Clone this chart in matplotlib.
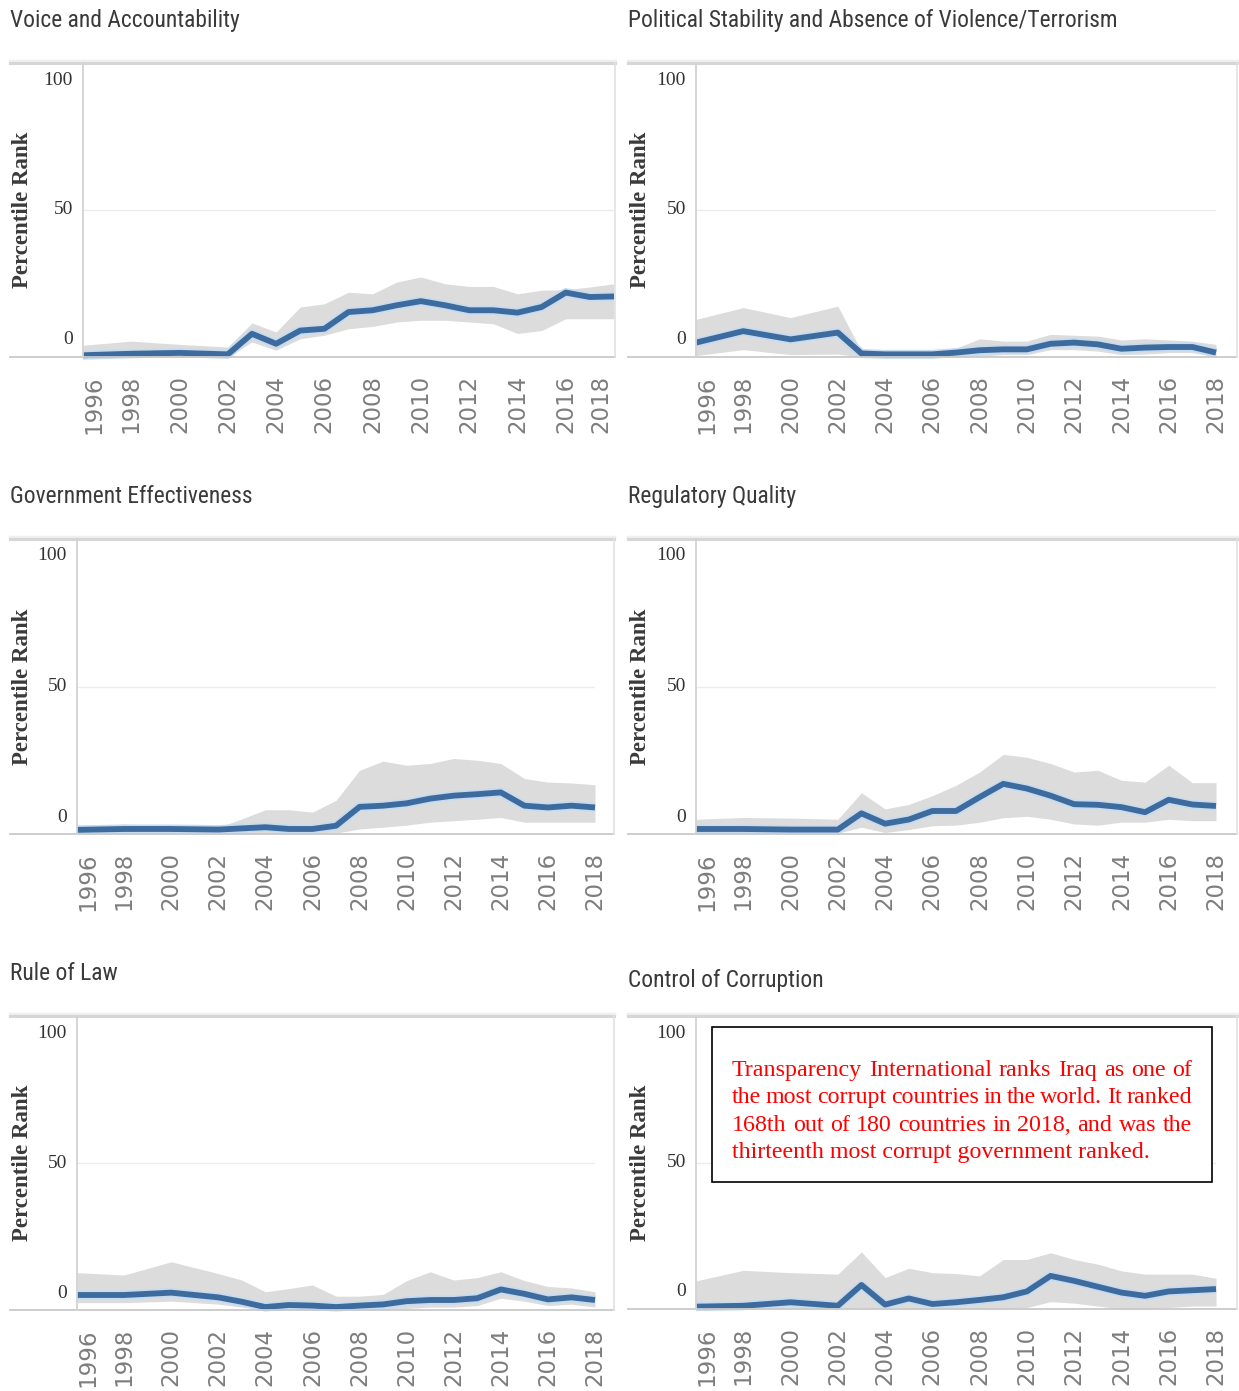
import matplotlib
matplotlib.use("Agg")
import matplotlib.pyplot as plt
import matplotlib.transforms as mtransforms
from matplotlib.lines import Line2D
from matplotlib.patches import Rectangle
from matplotlib import font_manager

W, H = 1239, 1391

# WGI percentile rank for Iraq (estimate, upper and lower bound of the 90% interval)
years = [1996, 1998, 2000, 2002, 2003, 2004, 2005, 2006, 2007, 2008,
         2009, 2010, 2011, 2012, 2013, 2014, 2015, 2016, 2017, 2018]
tick_years = [1996, 1998, 2000, 2002, 2004, 2006, 2008, 2010, 2012, 2014, 2016, 2018]

va_rank = [0.6, 1.1, 1.4, 0.9, 7.9, 4.5, 9.0, 9.6, 15.3, 15.9,
           17.6, 19.0, 17.6, 15.9, 15.9, 15.1, 17.0, 21.9, 20.4, 20.6]
va_upper = [4.0, 5.4, 4.3, 3.4, 11.6, 8.5, 17.0, 18.1, 22.0, 21.5,
            25.5, 27.2, 24.9, 24.0, 24.0, 21.5, 22.7, 22.9, 23.8, 24.9]
va_lower = [0.0, 0.0, 0.0, 0.0, 5.1, 2.3, 6.2, 7.4, 9.6, 10.4,
            11.9, 12.5, 12.5, 11.9, 11.3, 8.0, 9.0, 13.0, 13.0, 13.0]

ps_rank = [4.9, 8.8, 6.0, 8.3, 1.2, 0.9, 0.9, 0.9, 1.5, 2.3,
           2.6, 2.6, 4.5, 4.9, 4.3, 2.8, 3.2, 3.4, 3.4, 1.5]
ps_upper = [12.8, 16.8, 13.4, 17.3, 2.0, 1.5, 1.5, 1.5, 3.0, 6.2,
            5.4, 5.4, 7.7, 7.4, 7.1, 5.8, 6.2, 5.8, 5.4, 4.3]
ps_lower = [0.5, 2.5, 0.8, 1.0, 0.0, 0.0, 0.0, 0.0, 0.0, 0.3,
            0.8, 0.8, 2.5, 2.5, 2.0, 0.8, 1.0, 1.5, 1.5, 0.0]

ge_rank = [1.4, 1.7, 1.7, 1.5, 1.9, 2.3, 1.7, 1.7, 2.8, 9.2,
           9.6, 10.4, 12.0, 13.0, 13.5, 14.1, 9.6, 9.0, 9.6, 9.0]
ge_upper = [2.0, 3.4, 2.8, 2.3, 5.1, 8.2, 8.2, 7.4, 11.4, 21.6,
            24.7, 23.3, 23.9, 25.6, 25.0, 23.9, 18.8, 17.6, 17.3, 16.7]
ge_lower = [0.0, 0.0, 0.0, 0.0, 0.0, 0.0, 0.0, 0.0, 0.3, 1.7,
            2.3, 3.0, 4.0, 4.5, 5.0, 5.6, 4.0, 4.0, 4.0, 4.0]

rq_rank = [1.7, 1.7, 1.5, 1.5, 7.0, 3.5, 4.9, 7.8, 7.8, 12.5,
           17.0, 15.4, 13.0, 10.1, 9.9, 9.1, 7.4, 11.6, 10.0, 9.5]
rq_upper = [5.0, 5.6, 5.4, 5.0, 14.0, 8.5, 10.0, 13.0, 16.5, 21.0,
            27.0, 26.0, 23.9, 21.0, 21.6, 18.2, 17.6, 23.3, 17.4, 17.4]
rq_lower = [0.3, 0.3, 0.3, 0.3, 2.3, 0.5, 1.5, 2.8, 3.0, 4.0,
            5.5, 6.0, 5.0, 3.4, 3.0, 4.0, 4.0, 5.0, 4.5, 4.5]

rl_rank = [5.1, 5.1, 5.9, 4.3, 2.8, 1.0, 1.7, 1.5, 1.0, 1.5,
           1.9, 3.0, 3.4, 3.4, 4.0, 7.0, 5.5, 3.6, 4.3, 3.4]
rl_upper = [12.7, 11.9, 16.4, 12.4, 10.2, 6.2, 7.3, 8.5, 4.7, 4.7,
            5.3, 10.0, 13.0, 10.2, 11.0, 13.0, 10.0, 8.0, 7.5, 6.2]
rl_lower = [2.5, 2.5, 3.0, 2.0, 1.0, 0.0, 0.0, 0.0, 0.0, 0.0,
            0.0, 0.5, 1.0, 1.0, 1.5, 4.0, 3.0, 1.5, 2.0, 1.0]

cc_rank = [0.8, 1.1, 2.3, 1.1, 8.2, 1.5, 3.6, 1.7, 2.3, 3.1,
           4.0, 6.0, 11.3, 9.6, 7.6, 5.6, 4.5, 6.0, 6.4, 6.8]
cc_upper = [9.6, 13.2, 12.4, 11.9, 19.5, 10.7, 13.9, 12.4, 12.1, 11.3,
            16.9, 16.9, 19.2, 16.9, 15.3, 13.0, 11.9, 11.9, 11.9, 10.5]
cc_lower = [0.0, 0.0, 0.0, 0.0, 0.5, 0.0, 0.0, 0.0, 0.0, 0.0,
            0.0, 0.5, 2.5, 2.0, 1.0, 0.0, 0.0, 0.5, 1.0, 1.0]

titles = ["Voice and Accountability",
          "Political Stability and Absence of Violence/Terrorism",
          "Government Effectiveness", "Regulatory Quality",
          "Rule of Law", "Control of Corruption"]
ranks = [va_rank, ps_rank, ge_rank, rq_rank, rl_rank, cc_rank]
uppers = [va_upper, ps_upper, ge_upper, rq_upper, rl_upper, cc_upper]
lowers = [va_lower, ps_lower, ge_lower, rq_lower, rl_lower, cc_lower]

note_lines = ["Transparency International ranks Iraq as one of",
              "the most corrupt countries in the world. It ranked",
              "168th out of 180 countries in 2018, and was the",
              "thirteenth most corrupt government ranked."]

# panel geometry in pixels: frame left, plot left, plot right, frame right, top, bottom, title y
panels = [
    (10, 83, 614, 615, 63, 357, 21),
    (628, 696, 1216, 1237, 63, 357, 21),
    (10, 77, 595, 614, 539, 834, 496),
    (628, 696, 1216, 1237, 539, 834, 496),
    (10, 77, 595, 614, 1016, 1310, 973),
    (628, 696, 1216, 1237, 1016, 1309, 981),
]

# narrow sans for the panel titles, if one is installed
fonts = font_manager.fontManager.ttflist
names = {f.name for f in fonts}
title_font, title_size, title_stretch = "Liberation Sans", 15.5, "normal"
for cand, size in [("Liberation Sans Narrow", 18.2), ("Arial Narrow", 18.2),
                   ("Roboto Condensed", 16.9), ("Open Sans Condensed", 18.0)]:
    if cand in names:
        title_font, title_size = cand, size
        break
else:
    if any(f.name == "DejaVu Sans" and f.stretch == "condensed" for f in fonts):
        title_font, title_size, title_stretch = "DejaVu Sans", 15.5, "condensed"

LINE = "#3d6b9e"
HALO = "#c4dbf1"
BAND = "#dcdcdc"

fig = plt.figure(figsize=(W / 100, H / 100), dpi=100)
fig.patch.set_facecolor("white")


def fx(px):
    return px / W


def fy(py):
    return 1 - py / H


def fig_line(x0, y0, x1, y1, **kw):
    fig.add_artist(Line2D([fx(x0), fx(x1)], [fy(y0), fy(y1)],
                          transform=fig.transFigure, **kw))


for i, (fl, pl, pr, fr, top, bot, ty) in enumerate(panels):
    ax = fig.add_axes([fx(pl), fy(bot), fx(pr - pl), (bot - top) / H])
    ax.set_xlim(1996, 2018)
    ax.set_ylim(0, 100)
    for s in ax.spines.values():
        s.set_visible(False)
    ax.axhline(50, color="#ececec", lw=1, zorder=0)

    ax.fill_between(years, lowers[i], uppers[i], color=BAND, lw=0, zorder=1)
    ax.plot(years, ranks[i], color=HALO, lw=6.5, solid_joinstyle="round",
            solid_capstyle="butt", clip_on=False, zorder=2)
    ax.plot(years, ranks[i], color=LINE, lw=4.2, solid_joinstyle="round",
            solid_capstyle="butt", clip_on=False, zorder=3)

    # frame lines
    fig_line(fl, top - 2, fr, top - 2, color="#efefef", lw=2.5)
    fig_line(fl, top, fr, top, color="#d6d6d6", lw=2.2)
    fig_line(fl, bot, fr, bot, color="#c9c9c9", lw=1.3)
    fig_line(pl, top, pl, bot, color="#d2d2d2", lw=1.3)
    fig_line(fr, top, fr, bot, color="#e2e2e2", lw=1.2)

    # y labels
    ax.set_yticks([])
    ytrans = ax.get_yaxis_transform()
    for val, dy in [(100, -0.17), (50, 0.0), (0, 0.17)]:
        off = mtransforms.ScaledTranslation(-0.10, dy, fig.dpi_scale_trans)
        ax.text(0, val, str(val), transform=ytrans + off, ha="right", va="center",
                family="Liberation Serif", fontsize=14, color="#333333")
    ax.set_ylabel("Percentile Rank", family="Liberation Serif", fontweight="bold",
                  fontsize=16.5, color="#3a3a3a")
    ax.yaxis.set_label_coords((fl + 23 - pl) / (pr - pl), 0.5)

    # x tick labels
    ax.set_xticks(tick_years)
    ax.set_xticklabels([str(y) for y in tick_years], rotation=90,
                       family="DejaVu Sans", fontsize=16.5, color="#7d7d7d")
    ax.tick_params(axis="x", length=0, pad=13)
    labels = ax.get_xticklabels()
    shifts = {0: 11, len(labels) - 1: min(0, fr - 14 - pr)}
    for k, px in shifts.items():
        off = mtransforms.ScaledTranslation(px / 100, 0, fig.dpi_scale_trans)
        labels[k].set_transform(labels[k].get_transform() + off)

    fig.text(fx(fl), fy(ty), titles[i], family=[title_font, "DejaVu Sans"],
             fontsize=title_size, fontstretch=title_stretch, color="#3a3a3a",
             ha="left", va="center")

# annotation box over the Control of Corruption panel
box_l, box_r, box_t, box_b = 712, 1212, 1027, 1182
fig.add_artist(Rectangle((fx(box_l), fy(box_b)), fx(box_r - box_l), (box_b - box_t) / H,
                         transform=fig.transFigure, facecolor="white",
                         edgecolor="black", lw=1.2, zorder=10))

renderer = fig.canvas.get_renderer()
txt_l, txt_r, base0, step = 732, 1192, 1076, 27.3
note_kw = dict(family="Liberation Serif", fontsize=17.3, color="#ff0000",
               va="baseline", ha="left", zorder=11)
for n, line in enumerate(note_lines):
    yb = fy(base0 + n * step)
    if n == len(note_lines) - 1:
        fig.text(fx(txt_l), yb, line, **note_kw)
        continue
    words = line.split()
    texts = [fig.text(0, yb, w, **note_kw) for w in words]
    widths = [t.get_window_extent(renderer).width for t in texts]
    gap = (txt_r - txt_l - sum(widths)) / (len(words) - 1)
    x = txt_l
    for t, w in zip(texts, widths):
        t.set_x(fx(x))
        x += w + gap

fig.savefig("out.png", dpi=100, facecolor="white")
plt.close(fig)
